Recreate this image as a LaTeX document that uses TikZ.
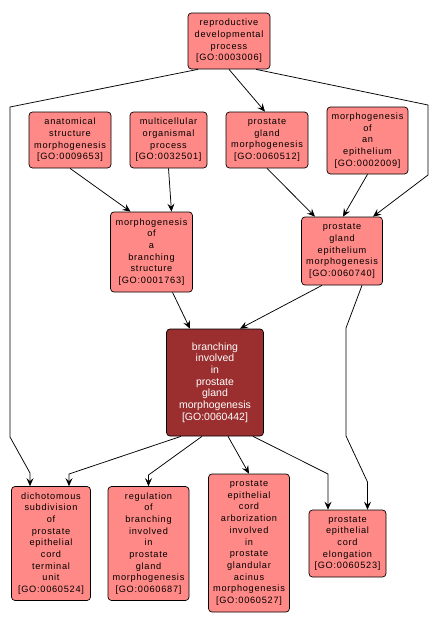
\documentclass[tikz,border=0pt]{standalone}
\usepackage{fontspec}
\setmainfont{Liberation Sans}
\newfontfamily\pinkfont[LetterSpace=8]{Liberation Sans}
\usetikzlibrary{arrows.meta,calc}
\definecolor{gopink}{RGB}{255,137,134}
\definecolor{godark}{RGB}{155,46,46}
\tikzset{
  goterm/.style={draw=black, line width=0.7pt, rounded corners=3.5pt, fill=gopink,
    align=center, inner sep=0pt, font=\pinkfont\fontsize{9.2}{11.7}\selectfont},
  goroot/.style={goterm, fill=godark, text=white, font=\fontsize{10.5}{11.7}\selectfont},
  goedge/.style={draw=black, line width=0.75pt, -{Stealth[length=8pt,width=7pt,inset=3pt]}}
}
\begin{document}
\begin{tikzpicture}[x=1pt,y=-1pt]
\useasboundingbox (0,0) rectangle (438,627);
\node[goterm, minimum width=82pt, minimum height=56pt] (n1) at (229,41) {reproductive\\developmental\\process\\{[}GO:0003006{]}};
\node[goterm, minimum width=82pt, minimum height=56pt] (n2) at (70,140) {anatomical\\structure\\morphogenesis\\{[}GO:0009653{]}};
\node[goterm, minimum width=77pt, minimum height=56pt] (n3) at (168.5,140) {multicellular\\organismal\\process\\{[}GO:0032501{]}};
\node[goterm, minimum width=82pt, minimum height=56pt] (n4) at (267,140) {prostate\\gland\\morphogenesis\\{[}GO:0060512{]}};
\node[goterm, minimum width=81pt, minimum height=67pt] (n5) at (367.5,140.5) {morphogenesis\\of\\an\\epithelium\\{[}GO:0002009{]}};
\node[goterm, minimum width=82pt, minimum height=80pt] (n6) at (151.5,252) {morphogenesis\\of\\a\\branching\\structure\\{[}GO:0001763{]}};
\node[goterm, minimum width=81pt, minimum height=68pt] (n7) at (342,251) {prostate\\gland\\epithelium\\morphogenesis\\{[}GO:0060740{]}};
\node[goroot, minimum width=97pt, minimum height=107pt] (n8) at (215,382.5) {branching\\involved\\in\\prostate\\gland\\morphogenesis\\{[}GO:0060442{]}};
\node[goterm, minimum width=79pt, minimum height=114pt] (n9) at (51,543.5) {dichotomous\\subdivision\\of\\prostate\\epithelial\\cord\\terminal\\unit\\{[}GO:0060524{]}};
\node[goterm, minimum width=81pt, minimum height=114pt] (n10) at (148.5,543.5) {regulation\\of\\branching\\involved\\in\\prostate\\gland\\morphogenesis\\{[}GO:0060687{]}};
\node[goterm, minimum width=81pt, minimum height=138pt] (n11) at (249,543) {prostate\\epithelial\\cord\\arborization\\involved\\in\\prostate\\glandular\\acinus\\morphogenesis\\{[}GO:0060527{]}};
\node[goterm, minimum width=77pt, minimum height=67pt] (n12) at (347.5,543.5) {prostate\\epithelial\\cord\\elongation\\{[}GO:0060523{]}};
\coordinate (a1) at (10,107);
\coordinate (a2) at (10,437);
\coordinate (a3) at (30,473);
\coordinate (b1) at (428,105);
\coordinate (b2) at (428,175);
\coordinate (c1) at (346,328);
\coordinate (c2) at (346,436);
\coordinate (c3) at (367.5,482);
\coordinate (d1) at (69,474);
\coordinate (d2) at (148.5,475);
\coordinate (d3) at (328,474);
\draw[goedge] ([xshift=-31pt]n1.south) -- (a1) -- (a2) -- (a3) -- ([xshift=-21pt]n9.north);
\draw[goedge] (n1.south) -- ([xshift=-2pt]n4.north);
\draw[goedge] ([xshift=27pt]n1.south) -- (b1) -- (b2) -- ([xshift=31pt]n7.north);
\draw[goedge] (n2.south) -- ([xshift=-21pt]n6.north);
\draw[goedge] (n3.south) -- ([xshift=20pt]n6.north);
\draw[goedge] (n4.south) -- ([xshift=-27pt]n7.north);
\draw[goedge] (n5.south) -- ([xshift=1pt]n7.north);
\draw[goedge] ([xshift=21pt]n6.south) -- ([xshift=-25pt]n8.north);
\draw[goedge] ([xshift=-20pt]n7.south) -- ([xshift=25pt]n8.north);
\draw[goedge] ([xshift=20pt]n7.south) -- (c1) -- (c2) -- (c3) -- ([xshift=20pt]n12.north);
\draw[goedge] ([xshift=-34pt]n8.south) -- (d1) -- ([xshift=18pt]n9.north);
\draw[goedge] ([xshift=-13pt]n8.south) -- (d2) -- (n10.north);
\draw[goedge] ([xshift=13pt]n8.south) -- (n11.north);
\draw[goedge] ([xshift=38pt]n8.south) -- (d3) -- ([xshift=-19.5pt]n12.north);
\end{tikzpicture}
\end{document}
